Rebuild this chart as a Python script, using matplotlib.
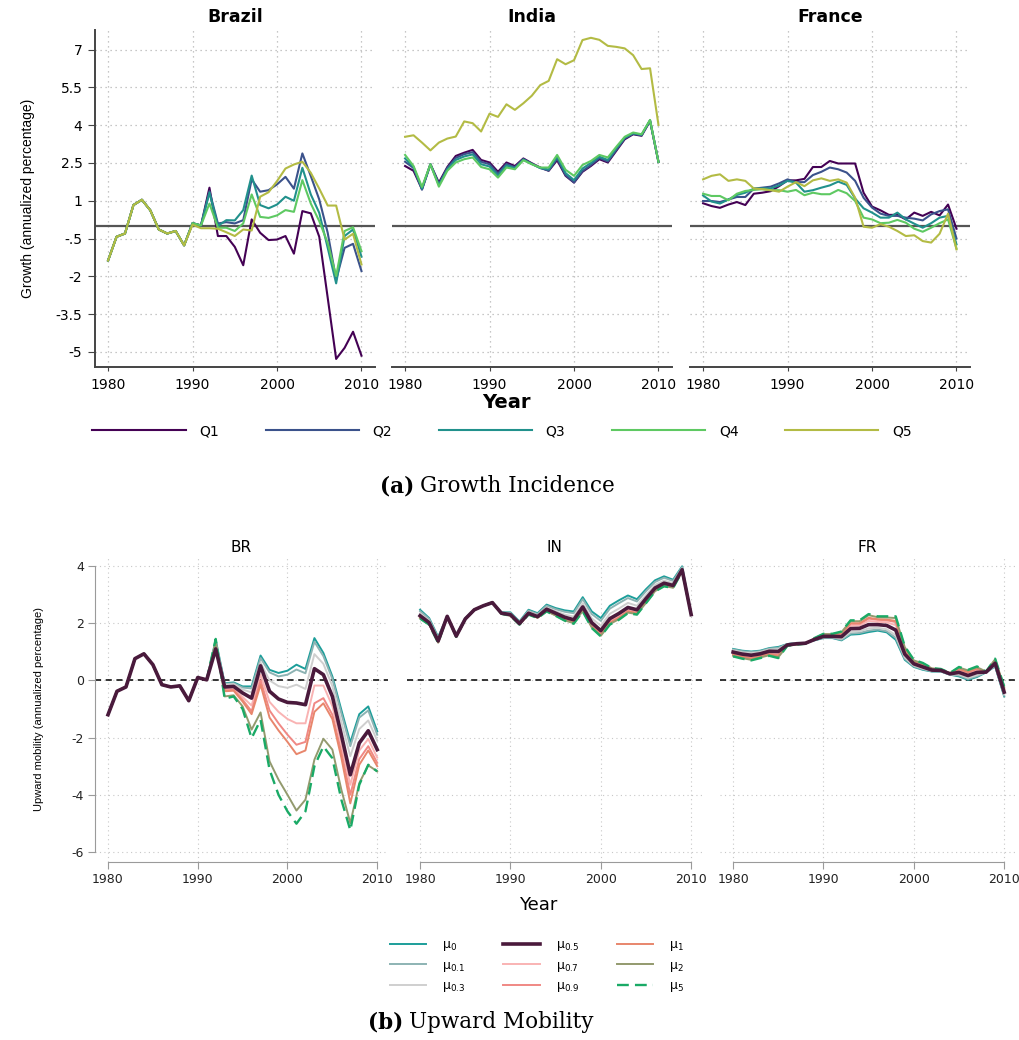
import matplotlib

matplotlib.use("Agg")

import matplotlib.pyplot as plt

years = list(range(1980, 2011))

# ---- (a) growth incidence by quintile ----
br_q1 = [-1.37, -0.43, -0.3, 0.83, 1.04, 0.62, -0.14, -0.3, -0.2, -0.77, 0.11, 0.02,
         1.52, -0.4, -0.4, -0.83, -1.56, 0.26, -0.27, -0.56, -0.54, -0.4, -1.1, 0.59,
         0.5, -0.43, -2.85, -5.28, -4.84, -4.2, -5.15]
br_q2 = [-1.37, -0.43, -0.3, 0.83, 1.04, 0.62, -0.14, -0.3, -0.2, -0.77, 0.11, 0.02,
         1.38, 0.1, 0.15, 0.1, 0.23, 1.85, 1.36, 1.42, 1.65, 1.95, 1.48, 2.88,
         1.98, 1.05, -0.27, -2.13, -0.87, -0.71, -1.79]
br_q3 = [-1.37, -0.43, -0.3, 0.83, 1.04, 0.62, -0.14, -0.3, -0.2, -0.77, 0.11, 0.02,
         1.32, 0.0, 0.23, 0.22, 0.63, 2.0, 0.83, 0.7, 0.85, 1.16, 1.0, 2.31,
         1.25, 0.52, -0.87, -2.28, -0.4, -0.14, -1.22]
br_q4 = [-1.37, -0.43, -0.3, 0.83, 1.04, 0.62, -0.14, -0.3, -0.2, -0.77, 0.11, 0.02,
         0.89, -0.07, -0.07, -0.2, 0.1, 1.25, 0.36, 0.32, 0.42, 0.63, 0.56, 1.82,
         0.89, 0.19, -0.67, -1.99, -0.2, -0.05, -1.0]
br_q5 = [-1.37, -0.43, -0.3, 0.83, 1.04, 0.62, -0.14, -0.3, -0.2, -0.77, 0.05, -0.09,
         -0.09, -0.11, -0.25, -0.4, -0.14, -0.18, 1.16, 1.34, 1.78, 2.28, 2.44, 2.55,
         2.11, 1.48, 0.81, 0.81, -0.54, -0.31, -1.53]

in_q1 = [2.38, 2.19, 1.46, 2.45, 1.72, 2.34, 2.78, 2.91, 3.02, 2.62, 2.52, 2.15, 2.52,
         2.38, 2.68, 2.49, 2.32, 2.19, 2.61, 1.99, 1.72, 2.15, 2.38, 2.65, 2.52, 2.98,
         3.44, 3.64, 3.58, 4.17, 2.54]
in_q2 = [2.55, 2.3, 1.44, 2.45, 1.66, 2.3, 2.7, 2.85, 2.93, 2.55, 2.45, 2.08, 2.46,
         2.33, 2.66, 2.47, 2.3, 2.2, 2.68, 2.02, 1.73, 2.18, 2.42, 2.7, 2.56, 3.02,
         3.48, 3.66, 3.6, 4.18, 2.54]
in_q3 = [2.68, 2.34, 1.48, 2.45, 1.62, 2.25, 2.62, 2.76, 2.84, 2.45, 2.36, 2.0, 2.4,
         2.29, 2.63, 2.46, 2.3, 2.24, 2.75, 2.1, 1.82, 2.28, 2.5, 2.75, 2.62, 3.08,
         3.5, 3.68, 3.62, 4.2, 2.54]
in_q4 = [2.82, 2.38, 1.55, 2.45, 1.56, 2.19, 2.52, 2.65, 2.72, 2.34, 2.25, 1.92, 2.32,
         2.25, 2.61, 2.45, 2.32, 2.32, 2.82, 2.23, 1.99, 2.42, 2.58, 2.82, 2.72, 3.14,
         3.54, 3.71, 3.64, 4.21, 2.54]
in_q5 = [3.54, 3.6, 3.31, 3.0, 3.31, 3.47, 3.55, 4.15, 4.08, 3.75, 4.46, 4.33, 4.83,
         4.61, 4.87, 5.17, 5.59, 5.76, 6.62, 6.42, 6.58, 7.38, 7.47, 7.39, 7.15, 7.11,
         7.05, 6.78, 6.23, 6.26, 4.01]

fr_q1 = [0.9, 0.79, 0.72, 0.85, 0.95, 0.83, 1.28, 1.32, 1.38, 1.58, 1.81, 1.81, 1.87,
         2.34, 2.34, 2.58, 2.48, 2.48, 2.48, 1.32, 0.77, 0.62, 0.44, 0.44, 0.26, 0.53,
         0.4, 0.56, 0.42, 0.85, -0.11]
fr_q2 = [0.99, 0.99, 0.95, 1.05, 1.15, 1.15, 1.48, 1.52, 1.56, 1.69, 1.85, 1.74, 1.74,
         2.02, 2.15, 2.32, 2.25, 2.12, 1.79, 1.12, 0.73, 0.49, 0.4, 0.4, 0.33, 0.29,
         0.22, 0.46, 0.59, 0.66, -0.5]
fr_q3 = [1.21, 0.97, 0.89, 1.05, 1.23, 1.32, 1.48, 1.49, 1.49, 1.61, 1.79, 1.72, 1.36,
         1.42, 1.52, 1.61, 1.76, 1.63, 1.09, 0.7, 0.53, 0.33, 0.33, 0.53, 0.26, 0.09,
         -0.07, 0.11, 0.33, 0.4, -0.73]
fr_q4 = [1.28, 1.19, 1.19, 1.02, 1.28, 1.39, 1.43, 1.46, 1.42, 1.42, 1.36, 1.43, 1.22,
         1.32, 1.26, 1.26, 1.43, 1.3, 0.99, 0.33, 0.26, 0.11, 0.13, 0.24, 0.13, -0.11,
         -0.23, -0.07, 0.11, 0.26, -0.9]
fr_q5 = [1.85, 1.99, 2.05, 1.79, 1.85, 1.79, 1.49, 1.46, 1.42, 1.36, 1.56, 1.74, 1.58,
         1.81, 1.89, 1.79, 1.85, 1.72, 1.12, -0.03, -0.07, 0.07, -0.03, -0.2, -0.4, -0.37,
         -0.6, -0.66, -0.31, 0.49, -0.93]

quintiles = ["Q1", "Q2", "Q3", "Q4", "Q5"]
quintile_colors = ["#440154", "#3b528b", "#21918c", "#5ec962", "#b3bb44"]
growth = {
    "Brazil": [br_q1, br_q2, br_q3, br_q4, br_q5],
    "India": [in_q1, in_q2, in_q3, in_q4, in_q5],
    "France": [fr_q1, fr_q2, fr_q3, fr_q4, fr_q5],
}
growth_ticks = [7, 5.5, 4, 2.5, 1, -0.5, -2, -3.5, -5]
growth_ticklabels = ["7", "5.5", "4", "2.5", "1", "-.5", "-2", "-3.5", "-5"]

# ---- (b) upward mobility by mu ----
br_mu0 = [-1.2, -0.38, -0.23, 0.76, 0.93, 0.55, -0.15, -0.23, -0.19, -0.71, 0.1, 0.02,
          1.42, -0.1, -0.07, -0.21, -0.21, 0.87, 0.37, 0.26, 0.34, 0.55, 0.4, 1.48,
          0.96, 0.14, -1.03, -2.17, -1.18, -0.91, -1.78]
br_mu01 = [-1.2, -0.38, -0.23, 0.76, 0.93, 0.55, -0.15, -0.23, -0.19, -0.71, 0.1, 0.02,
           1.38, -0.12, -0.1, -0.25, -0.28, 0.78, 0.28, 0.14, 0.2, 0.38, 0.25, 1.35,
           0.85, 0.05, -1.15, -2.3, -1.3, -1.05, -1.9]
br_mu03 = [-1.2, -0.38, -0.23, 0.76, 0.93, 0.55, -0.15, -0.23, -0.19, -0.71, 0.1, 0.02,
           1.25, -0.15, -0.13, -0.32, -0.42, 0.62, 0.0, -0.2, -0.26, -0.15, -0.3, 0.92,
           0.58, -0.2, -1.45, -2.65, -1.7, -1.4, -2.1]
br_mu05 = [-1.2, -0.38, -0.23, 0.76, 0.93, 0.55, -0.15, -0.23, -0.19, -0.71, 0.1, 0.02,
           1.1, -0.23, -0.21, -0.44, -0.62, 0.51, -0.38, -0.65, -0.77, -0.79, -0.85, 0.41,
           0.2, -0.56, -1.9, -3.3, -2.19, -1.76, -2.42]
br_mu07 = [-1.2, -0.38, -0.23, 0.76, 0.93, 0.55, -0.15, -0.23, -0.19, -0.71, 0.1, 0.02,
           1.12, -0.3, -0.28, -0.58, -0.88, 0.2, -0.75, -1.1, -1.35, -1.5, -1.5, -0.18,
           -0.18, -0.9, -2.2, -3.65, -2.45, -2.05, -2.7]
br_mu09 = [-1.2, -0.38, -0.23, 0.76, 0.93, 0.55, -0.15, -0.23, -0.19, -0.71, 0.1, 0.02,
           1.18, -0.35, -0.33, -0.68, -1.08, 0.0, -1.05, -1.5, -1.9, -2.25, -2.15, -0.8,
           -0.62, -1.2, -2.5, -4.0, -2.75, -2.3, -2.88]
br_mu1 = [-1.2, -0.38, -0.23, 0.76, 0.93, 0.55, -0.15, -0.23, -0.19, -0.71, 0.1, 0.02,
          1.22, -0.38, -0.36, -0.74, -1.18, -0.15, -1.3, -1.75, -2.15, -2.58, -2.45, -1.1,
          -0.8, -1.35, -2.7, -4.3, -2.95, -2.45, -3.0]
br_mu2 = [-1.2, -0.38, -0.23, 0.76, 0.93, 0.55, -0.15, -0.23, -0.19, -0.71, 0.1, 0.02,
          1.35, -0.56, -0.52, -0.91, -1.72, -1.12, -2.83, -3.47, -4.0, -4.55, -4.17, -2.77,
          -2.04, -2.42, -3.82, -4.99, -3.59, -2.97, -3.18]
br_mu5 = [-1.2, -0.38, -0.23, 0.76, 0.93, 0.55, -0.15, -0.23, -0.19, -0.71, 0.1, 0.02,
          1.45, -0.64, -0.56, -1.0, -2.02, -1.38, -3.12, -4.0, -4.58, -5.01, -4.58, -3.0,
          -2.31, -2.72, -4.17, -5.24, -3.65, -2.95, -3.18]

in_mu0 = [2.47, 2.18, 1.52, 2.24, 1.6, 2.18, 2.47, 2.61, 2.7, 2.38, 2.38, 2.06, 2.47,
          2.35, 2.65, 2.53, 2.45, 2.41, 2.91, 2.41, 2.18, 2.61, 2.8, 2.97, 2.84, 3.19,
          3.5, 3.64, 3.52, 3.99, 2.3]
in_mu01 = [2.42, 2.15, 1.49, 2.24, 1.59, 2.17, 2.47, 2.61, 2.7, 2.37, 2.36, 2.04, 2.44,
           2.32, 2.61, 2.49, 2.4, 2.35, 2.84, 2.32, 2.08, 2.51, 2.7, 2.88, 2.76, 3.12,
           3.44, 3.59, 3.48, 3.96, 2.3]
in_mu03 = [2.34, 2.08, 1.43, 2.24, 1.57, 2.16, 2.47, 2.61, 2.71, 2.36, 2.33, 2.01, 2.4,
           2.28, 2.55, 2.42, 2.3, 2.23, 2.7, 2.17, 1.91, 2.33, 2.51, 2.71, 2.61, 2.98,
           3.34, 3.49, 3.4, 3.91, 2.3]
in_mu05 = [2.26, 2.02, 1.38, 2.24, 1.55, 2.15, 2.47, 2.61, 2.72, 2.35, 2.3, 1.99, 2.35,
           2.23, 2.49, 2.35, 2.21, 2.12, 2.57, 2.02, 1.74, 2.16, 2.34, 2.55, 2.47, 2.86,
           3.23, 3.4, 3.32, 3.87, 2.3]
in_mu07 = [2.22, 2.0, 1.35, 2.24, 1.54, 2.15, 2.47, 2.61, 2.72, 2.34, 2.28, 1.97, 2.33,
           2.21, 2.46, 2.31, 2.16, 2.07, 2.51, 1.95, 1.67, 2.08, 2.26, 2.47, 2.41, 2.8,
           3.19, 3.36, 3.29, 3.85, 2.3]
in_mu09 = [2.2, 1.98, 1.34, 2.24, 1.53, 2.14, 2.47, 2.61, 2.73, 2.34, 2.27, 1.96, 2.32,
           2.2, 2.44, 2.29, 2.13, 2.03, 2.47, 1.9, 1.62, 2.03, 2.2, 2.42, 2.36, 2.76,
           3.16, 3.33, 3.26, 3.83, 2.3]
in_mu1 = [2.19, 1.97, 1.33, 2.24, 1.53, 2.14, 2.47, 2.61, 2.73, 2.33, 2.27, 1.96, 2.32,
          2.2, 2.43, 2.28, 2.12, 2.02, 2.46, 1.88, 1.6, 2.01, 2.18, 2.41, 2.35, 2.74,
          3.15, 3.32, 3.26, 3.83, 2.3]
in_mu2 = [2.17, 1.96, 1.32, 2.24, 1.52, 2.14, 2.47, 2.61, 2.73, 2.33, 2.26, 1.95, 2.31,
          2.19, 2.42, 2.27, 2.1, 2.0, 2.43, 1.85, 1.56, 1.97, 2.14, 2.37, 2.32, 2.71,
          3.12, 3.3, 3.24, 3.82, 2.3]
in_mu5 = [2.16, 1.95, 1.31, 2.24, 1.52, 2.14, 2.47, 2.61, 2.73, 2.33, 2.26, 1.95, 2.3,
          2.18, 2.41, 2.26, 2.09, 1.98, 2.41, 1.83, 1.54, 1.95, 2.12, 2.35, 2.3, 2.7,
          3.11, 3.29, 3.23, 3.81, 2.3]

fr_mu0 = [1.1, 1.04, 1.01, 1.04, 1.13, 1.17, 1.27, 1.31, 1.31, 1.4, 1.48, 1.48, 1.4,
          1.6, 1.62, 1.69, 1.74, 1.68, 1.42, 0.72, 0.47, 0.37, 0.31, 0.31, 0.2, 0.14,
          0.02, 0.12, 0.28, 0.49, -0.56]
fr_mu01 = [1.08, 1.02, 0.99, 1.02, 1.11, 1.14, 1.27, 1.31, 1.31, 1.41, 1.49, 1.49, 1.42,
           1.64, 1.66, 1.74, 1.78, 1.72, 1.49, 0.76, 0.49, 0.39, 0.32, 0.32, 0.2, 0.17,
           0.05, 0.15, 0.28, 0.51, -0.53]
fr_mu03 = [1.05, 0.98, 0.95, 0.99, 1.08, 1.09, 1.26, 1.3, 1.3, 1.42, 1.51, 1.51, 1.46,
           1.7, 1.72, 1.82, 1.84, 1.79, 1.58, 0.81, 0.52, 0.42, 0.33, 0.33, 0.21, 0.21,
           0.09, 0.19, 0.29, 0.54, -0.49]
fr_mu05 = [0.99, 0.92, 0.88, 0.93, 1.02, 1.01, 1.24, 1.28, 1.3, 1.43, 1.54, 1.54, 1.53,
           1.81, 1.82, 1.95, 1.95, 1.92, 1.76, 0.92, 0.58, 0.47, 0.36, 0.35, 0.23, 0.28,
           0.17, 0.28, 0.29, 0.6, -0.41]
fr_mu07 = [0.94, 0.87, 0.82, 0.88, 0.96, 0.93, 1.23, 1.27, 1.29, 1.45, 1.57, 1.57, 1.59,
           1.91, 1.92, 2.08, 2.05, 2.03, 1.93, 1.01, 0.63, 0.52, 0.38, 0.37, 0.24, 0.34,
           0.24, 0.35, 0.3, 0.66, -0.34]
fr_mu09 = [0.91, 0.83, 0.78, 0.85, 0.93, 0.88, 1.23, 1.27, 1.29, 1.46, 1.59, 1.59, 1.63,
           1.98, 1.98, 2.16, 2.12, 2.1, 2.04, 1.07, 0.66, 0.55, 0.4, 0.38, 0.25, 0.39,
           0.28, 0.4, 0.3, 0.69, -0.3]
fr_mu1 = [0.89, 0.82, 0.76, 0.83, 0.91, 0.86, 1.22, 1.26, 1.29, 1.46, 1.6, 1.6, 1.65,
          2.0, 2.0, 2.19, 2.14, 2.13, 2.08, 1.1, 0.67, 0.56, 0.41, 0.38, 0.25, 0.4,
          0.3, 0.42, 0.3, 0.71, -0.28]
fr_mu2 = [0.86, 0.78, 0.72, 0.8, 0.88, 0.81, 1.21, 1.25, 1.28, 1.47, 1.62, 1.62, 1.69,
          2.07, 2.07, 2.28, 2.21, 2.2, 2.18, 1.16, 0.7, 0.59, 0.42, 0.39, 0.26, 0.45,
          0.35, 0.46, 0.31, 0.74, -0.23]
fr_mu5 = [0.84, 0.76, 0.7, 0.78, 0.86, 0.78, 1.21, 1.25, 1.28, 1.48, 1.63, 1.63, 1.71,
          2.1, 2.1, 2.32, 2.24, 2.24, 2.24, 1.19, 0.72, 0.61, 0.43, 0.4, 0.26, 0.47,
          0.37, 0.49, 0.31, 0.76, -0.21]

mu_labels = ["μ$_{0}$", "μ$_{0.1}$", "μ$_{0.3}$", "μ$_{0.5}$", "μ$_{0.7}$",
             "μ$_{0.9}$", "μ$_{1}$", "μ$_{2}$", "μ$_{5}$"]
mu_colors = ["#1c9e9a", "#8db3b3", "#cfcfcf", "#4a1a3c", "#f9b3b3",
             "#f08884", "#e8866c", "#939a6e", "#1aaa66"]
mobility = {
    "BR": [br_mu0, br_mu01, br_mu03, br_mu05, br_mu07, br_mu09, br_mu1, br_mu2, br_mu5],
    "IN": [in_mu0, in_mu01, in_mu03, in_mu05, in_mu07, in_mu09, in_mu1, in_mu2, in_mu5],
    "FR": [fr_mu0, fr_mu01, fr_mu03, fr_mu05, fr_mu07, fr_mu09, fr_mu1, fr_mu2, fr_mu5],
}

W, H = 1020, 1040


def box(left, top, right, bottom):
    return [left / W, 1 - bottom / H, (right - left) / W, (bottom - top) / H]


GRID = dict(color="#b5b5b5", linestyle=(0, (1, 3)), linewidth=0.9)

fig = plt.figure(figsize=(W / 100, H / 100), dpi=100)

# ---------- top row ----------
top_axes = [(95, 375), (392, 672), (690, 970)]
q_handles = []
for i, ((left, right), (country, series)) in enumerate(zip(top_axes, growth.items())):
    ax = fig.add_axes(box(left, 30, right, 367))
    ax.set_xlim(1978.45, 2011.6)
    ax.set_ylim(-5.6, 7.78)
    ax.set_xticks([1980, 1990, 2000, 2010])
    ax.set_yticks(growth_ticks)
    ax.grid(True, **GRID)
    ax.set_axisbelow(True)
    ax.axhline(0, color="#555555", linewidth=1.6, zorder=1)
    for values, color in zip(series, quintile_colors):
        (ln,) = ax.plot(years, values, color=color, linewidth=1.5, zorder=3)
        if i == 0:
            q_handles.append(ln)
    for side in ("top", "right"):
        ax.spines[side].set_visible(False)
    ax.spines["bottom"].set_color("#444444")
    ax.spines["bottom"].set_linewidth(1.4)
    ax.tick_params(axis="x", length=3, color="#444444", labelsize=10, pad=5)
    if i == 0:
        ax.set_yticklabels(growth_ticklabels)
        ax.spines["left"].set_color("#444444")
        ax.spines["left"].set_linewidth(1.4)
        ax.tick_params(axis="y", length=5, color="#444444", labelsize=10, pad=4)
        ax.set_ylabel("Growth (annualized percentage)", fontsize=10,
                      family="Liberation Sans", labelpad=15)
    else:
        ax.spines["left"].set_visible(False)
        ax.tick_params(axis="y", length=0, labelleft=False)
    ax.set_title(country, fontsize=12.5, fontweight="bold", pad=6)

fig.text(506 / W, 1 - 402 / H, "Year", ha="center", va="center",
         fontsize=14, fontweight="bold")
fig.legend(q_handles, quintiles, ncol=5, loc="center",
           bbox_to_anchor=(502 / W, 1 - 431 / H), frameon=False, fontsize=10,
           handlelength=6.7, handletextpad=1.0, columnspacing=3.35)

fig.text(414 / W, 1 - 486 / H, "(a)", ha="right", va="center",
         fontsize=15.5, fontweight="bold", family="DejaVu Serif")
fig.text(420 / W, 1 - 486 / H, "Growth Incidence", ha="left", va="center",
         fontsize=15.5, family="DejaVu Serif")

# ---------- bottom row ----------
bottom_axes = [(95, 388), (407, 702), (720, 1015)]
mu_handles = []
for i, ((left, right), (code, series)) in enumerate(zip(bottom_axes, mobility.items())):
    ax = fig.add_axes(box(left, 556, right, 862))
    ax.set_xlim(1978.55, 2011.2)
    ax.set_ylim(-6.35, 4.35)
    ax.set_xticks([1980, 1990, 2000, 2010])
    ax.set_yticks([-6, -4, -2, 0, 2, 4])
    ax.grid(True, color="#c8c8c8", linestyle=(0, (1, 3)), linewidth=0.8)
    ax.set_axisbelow(True)
    ax.axhline(0, color="black", linestyle=(0, (4, 3)), linewidth=1.1, zorder=1)
    for k, (values, color) in enumerate(zip(series, mu_colors)):
        style = dict(color=color, linewidth=1.4, zorder=3)
        if k == 3:
            style.update(linewidth=2.6, zorder=5)
        if k == 8:
            style.update(linestyle=(0, (5, 2.6)), linewidth=1.7, zorder=4)
        (ln,) = ax.plot(years, values, **style)
        if i == 0:
            mu_handles.append(ln)
    for side in ("top", "right"):
        ax.spines[side].set_visible(False)
    ax.spines["bottom"].set_bounds(1980, 2010)
    ax.spines["bottom"].set_color("#9a9a9a")
    ax.tick_params(axis="x", length=5, color="#9a9a9a", labelsize=9,
                   labelcolor="#222222", pad=3)
    if i == 0:
        ax.spines["left"].set_bounds(-6, 4)
        ax.spines["left"].set_color("#9a9a9a")
        ax.tick_params(axis="y", length=5, color="#9a9a9a", labelsize=9,
                       labelcolor="#222222", pad=3)
        ax.set_yticklabels(["-6", "-4", "-2", "0", "2", "4"])
        ax.set_ylabel("Upward mobility (annualized percentage)", fontsize=8,
                      family="Liberation Sans", labelpad=20)
    else:
        ax.spines["left"].set_visible(False)
        ax.tick_params(axis="y", length=0, labelleft=False)
    ax.set_title(code, fontsize=11, pad=3)

fig.text(538 / W, 1 - 905 / H, "Year", ha="center", va="center", fontsize=13)
fig.legend(mu_handles, mu_labels, ncol=3, loc="center",
           bbox_to_anchor=(537 / W, 1 - 966 / H), frameon=False, fontsize=9,
           handlelength=2.9, handletextpad=1.3, columnspacing=3.0, labelspacing=0.45)

fig.text(403 / W, 1 - 1022 / H, "(b)", ha="right", va="center",
         fontsize=15.5, fontweight="bold", family="DejaVu Serif")
fig.text(409 / W, 1 - 1022 / H, "Upward Mobility", ha="left", va="center",
         fontsize=15.5, family="DejaVu Serif")

fig.savefig("out.png", dpi=100)
